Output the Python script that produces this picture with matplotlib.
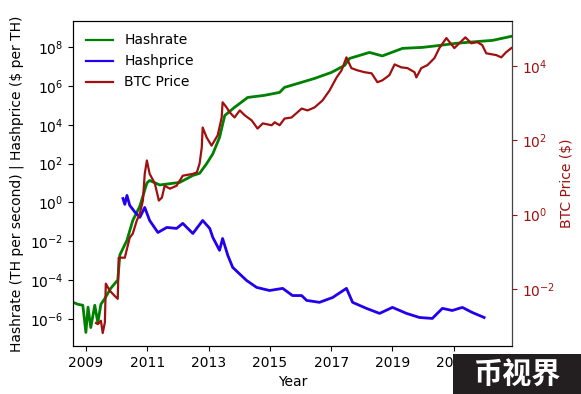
import numpy as np
import matplotlib
matplotlib.use("Agg")
import matplotlib.pyplot as plt
from matplotlib.ticker import NullLocator

# ---- data (decimal year, log10 value) ----
hashrate_year = [2008.58, 2008.74, 2008.9, 2009.0, 2009.07, 2009.16, 2009.29, 2009.39, 2009.49,
                 2009.62, 2009.81, 2010.04, 2010.11, 2010.34, 2010.53, 2010.76, 2010.99,
                 2011.08, 2011.41, 2012.06, 2012.49, 2012.71, 2012.94, 2013.14, 2013.36, 2013.53,
                 2013.85, 2014.28, 2014.83, 2015.32, 2015.48, 2015.91, 2016.46, 2017.01, 2017.44,
                 2017.6, 2018.25, 2018.67, 2019.33, 2019.98, 2020.53, 2021.08, 2021.83, 2022.26,
                 2022.88]
hashrate_log10 = [-5.15, -5.25, -5.3, -6.7, -5.4, -6.45, -5.3, -6.2, -5.25,
                  -4.95, -4.43, -4.0, -2.7, -1.95, -0.93, -0.2, 1.0,
                  1.13, 0.9, 1.03, 1.39, 1.5, 2.0, 2.5, 3.35, 4.48,
                  4.9, 5.41, 5.52, 5.67, 5.93, 6.13, 6.39, 6.7, 7.06,
                  7.42, 7.73, 7.55, 7.94, 7.99, 8.09, 8.2, 8.3, 8.35,
                  8.56]

hashprice_year = [2010.21, 2010.27, 2010.34, 2010.43, 2010.6, 2010.76, 2010.92, 2011.08, 2011.35,
                  2011.64, 2011.96, 2012.16, 2012.49, 2012.81, 2013.04, 2013.14, 2013.36, 2013.46,
                  2013.63, 2013.79, 2014.24, 2014.57, 2014.99, 2015.42, 2015.74, 2016.04, 2016.2,
                  2016.62, 2017.05, 2017.5, 2017.7, 2018.15, 2018.58, 2019.0, 2019.46, 2019.88,
                  2020.3, 2020.63, 2020.95, 2021.28, 2021.6, 2021.99]
hashprice_log10 = [0.2, -0.1, 0.36, -0.15, -0.5, -0.77, -0.26, -0.93, -1.55,
                   -1.29, -1.34, -1.08, -1.6, -0.93, -1.34, -1.8, -2.47, -1.86,
                   -2.73, -3.35, -4.02, -4.38, -4.54, -4.43, -4.8, -4.8, -5.05,
                   -5.15, -4.9, -4.43, -5.15, -5.46, -5.72, -5.41, -5.72, -5.93,
                   -5.98, -5.46, -5.57, -5.41, -5.67, -5.93]

btc_year = [2009.33, 2009.39, 2009.49, 2009.55, 2009.62, 2009.65, 2009.78, 2009.94, 2010.04,
            2010.07, 2010.27, 2010.43, 2010.53, 2010.66, 2010.76, 2010.86, 2010.92, 2010.99,
            2011.08, 2011.25, 2011.38, 2011.48, 2011.57, 2011.74, 2011.96, 2012.16, 2012.49,
            2012.62, 2012.71, 2012.78, 2012.81, 2012.94, 2013.1, 2013.3, 2013.43, 2013.46,
            2013.59, 2013.69, 2013.85, 2014.02, 2014.18, 2014.41, 2014.6, 2014.77, 2015.06,
            2015.16, 2015.32, 2015.48, 2015.71, 2016.04, 2016.23, 2016.46, 2016.72, 2016.95,
            2017.18, 2017.34, 2017.5, 2017.66, 2017.86, 2018.09, 2018.32, 2018.51, 2018.67,
            2018.9, 2019.07, 2019.29, 2019.49, 2019.72, 2019.78, 2019.94, 2020.14, 2020.37,
            2020.53, 2020.76, 2021.02, 2021.18, 2021.38, 2021.57, 2021.77, 2021.93, 2022.06,
            2022.39, 2022.55, 2022.71, 2022.88]
btc_log10 = [-2.92, -2.95, -2.86, -3.19, -2.9, -1.86, -2.05, -2.19, -2.27,
             -1.16, -1.16, -0.62, -0.51, -0.16, 0.03, 0.38, 1.1, 1.46,
             1.1, 0.84, 0.38, 0.46, 0.78, 0.7, 0.78, 1.05, 1.1,
             1.14, 1.38, 1.81, 2.35, 2.08, 1.86, 2.14, 2.62, 3.03,
             2.89, 2.76, 2.62, 2.81, 2.68, 2.54, 2.32, 2.46, 2.41,
             2.49, 2.41, 2.59, 2.62, 2.86, 2.81, 2.89, 3.08, 3.35,
             3.7, 3.89, 4.24, 3.95, 3.89, 3.84, 3.81, 3.57, 3.62,
             3.76, 4.05, 3.97, 3.95, 3.84, 3.7, 3.95, 4.03, 4.22,
             4.49, 4.76, 4.49, 4.62, 4.78, 4.62, 4.65, 4.57, 4.35,
             4.3, 4.24, 4.38, 4.49]

xtick_years = [2009, 2011, 2013, 2015, 2017, 2019, 2021]

# ---- figure ----
fig = plt.figure(figsize=(5.81, 3.94), dpi=100)
ax = fig.add_axes([73/581, 1-346/394, (512-73)/581, (346-21)/394])
ax2 = ax.twinx()

green = "#008000"
blue = "#2200ee"
red = "#a01010"

l1, = ax.plot(hashrate_year, 10**np.array(hashrate_log10), color=green, lw=2.0, label="Hashrate")
l2, = ax.plot(hashprice_year, 10**np.array(hashprice_log10), color=blue, lw=2.0, label="Hashprice")
l3, = ax2.plot(btc_year, 10**np.array(btc_log10), color=red, lw=1.6, label="BTC Price")

ax.set_yscale("log")
ax2.set_yscale("log")
ax.set_xlim(2008.58, 2022.9)
ax.set_ylim(10**-7.4, 10**9.35)
ax2.set_ylim(10**-3.54, 10**5.22)

ax.set_yticks([1e-6, 1e-4, 1e-2, 1e0, 1e2, 1e4, 1e6, 1e8])
ax2.set_yticks([1e-2, 1e0, 1e2, 1e4])
ax.yaxis.set_minor_locator(NullLocator())
ax2.yaxis.set_minor_locator(NullLocator())
ax.set_xticks(xtick_years)
ax.set_xticklabels([str(y) for y in xtick_years])

ax.set_xlabel("Year")
ax.set_ylabel("Hashrate (TH per second) | Hashprice (\\$ per TH)")
ax2.set_ylabel("BTC Price (\\$)", color=red)
ax2.tick_params(axis="y", colors=red)
ax2.spines["right"].set_color("#444444")

leg = ax.legend(handles=[l1, l2, l3], loc="upper left", frameon=False, fontsize=10)
for h in leg.legend_handles:
    h.set_linewidth(1.6)

# watermark
fig.patches.append(plt.Rectangle((453/581, 0), 128/581, 40/394, transform=fig.transFigure,
                                 facecolor="#231f20", edgecolor="none", zorder=10))
fig.text(517/581, 19/394, "币视界", color="white", fontsize=21, fontweight="bold",
         ha="center", va="center", family=["Noto Sans CJK SC", "DejaVu Sans"], zorder=11)

fig.savefig("out.png", dpi=100)
